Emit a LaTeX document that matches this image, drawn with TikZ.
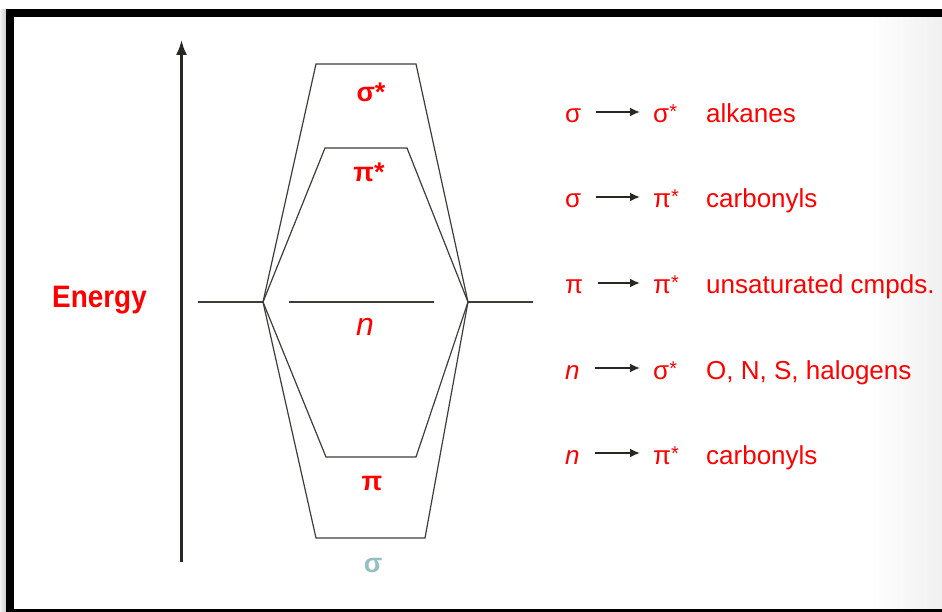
\documentclass[tikz,border=0pt]{standalone}
\usepackage{fontspec}
\setmainfont{Liberation Sans}
\newfontfamily\energyfont[FakeStretch=0.9]{Liberation Sans}
\usetikzlibrary{arrows.meta}
\definecolor{levelgray}{RGB}{62,62,56}
\definecolor{axisgray}{RGB}{40,40,34}
\definecolor{sigmateal}{RGB}{150,192,192}
\newcommand\st{\raisebox{4pt}{\fontsize{20}{20}\selectfont *}}

\begin{document}
\begin{tikzpicture}[x=1pt,y=-1pt,level/.style={draw=levelgray,line width=1.2pt},axis/.style={draw=axisgray,line width=2.2pt,-{Latex[length=15pt,width=11pt]}},lab/.style={text=red,font=\fontsize{27}{30}\selectfont\bfseries,inner sep=0pt},sym/.style={text=red,font=\fontsize{26}{30}\selectfont,inner sep=0pt,anchor=base west,text height=22pt,text depth=0pt},desc/.style={text=red,font=\fontsize{26}{30}\selectfont,inner sep=0pt,anchor=base west},trans/.style={draw=axisgray,line width=1.8pt,-{Latex[length=10pt,width=9pt]},shorten <=15pt,shorten >=13pt}]
\useasboundingbox (0,0) rectangle (942,612);
\fill[white] (0,0) rectangle (942,612);
\foreach \k in {0,...,5}
  \fill[gray!\the\numexpr 10+5*\k\relax] (\k,9) rectangle (\k+1.1,612);
\fill[black] (6,9) rectangle (942,612);
\fill[white] (14,17) rectangle (942,609);
\foreach \k in {0,...,23}
  \fill[gray!\the\numexpr\k/2\relax] (870+3*\k,17) rectangle (873.2+3*\k,609);
\coordinate (ebot) at (181.5,562);
\coordinate (etop) at (181.5,40);
\draw[axis] (ebot) -- (etop);
\node[text=red,font=\energyfont\fontsize{31}{34}\selectfont\bfseries,inner sep=0pt,anchor=base west] (energy) at (52,307) {Energy};
\coordinate (ol) at (198,302);
\coordinate (jl) at (263,302);
\coordinate (jr) at (468,302);
\coordinate (or) at (533,302);
\coordinate (ssl) at (316,64);
\coordinate (ssr) at (416,64);
\coordinate (psl) at (325,148);
\coordinate (psr) at (407,148);
\coordinate (nl) at (289,302);
\coordinate (nr) at (434,302);
\coordinate (pl) at (326,457);
\coordinate (pr) at (416,457);
\coordinate (sl) at (316,538);
\coordinate (sr) at (425,538);
\draw[level] (ol) -- (jl);
\draw[level] (jr) -- (or);
\draw[level] (jl) -- (ssl) -- (ssr) -- (jr);
\draw[level] (jl) -- (psl) -- (psr) -- (jr);
\draw[level] (nl) -- (nr);
\draw[level] (jl) -- (pl) -- (pr) -- (jr);
\draw[level] (jl) -- (sl) -- (sr) -- (jr);
\node[lab] (sigmastar) at (371,92) {σ*};
\node[lab] (pistar) at (369,172) {π*};
\node[lab,font=\fontsize{32}{34}\selectfont\itshape] (nonbond) at (365,327) {n};
\node[lab] (pibond) at (372,483) {π};
\node[lab,text=sigmateal] (sigmabond) at (373,565) {σ};
\foreach \yb/\src/\dst/\what [count=\i] in {123/σ/σ\st/alkanes, 208/σ/π\st/carbonyls, 294/π/π\st/unsaturated cmpds., 379/\textit{n}/σ\st/{O, N, S, halogens}, 464/\textit{n}/π\st/carbonyls}{
\node[sym] (f\i) at (565,\yb) {\src};
\node[sym] (t\i) at (653,\yb) {\dst};
\node[desc] (d\i) at (706,\yb) {\what};
\draw[trans] (f\i) -- (t\i);
}
\end{tikzpicture}
\end{document}
